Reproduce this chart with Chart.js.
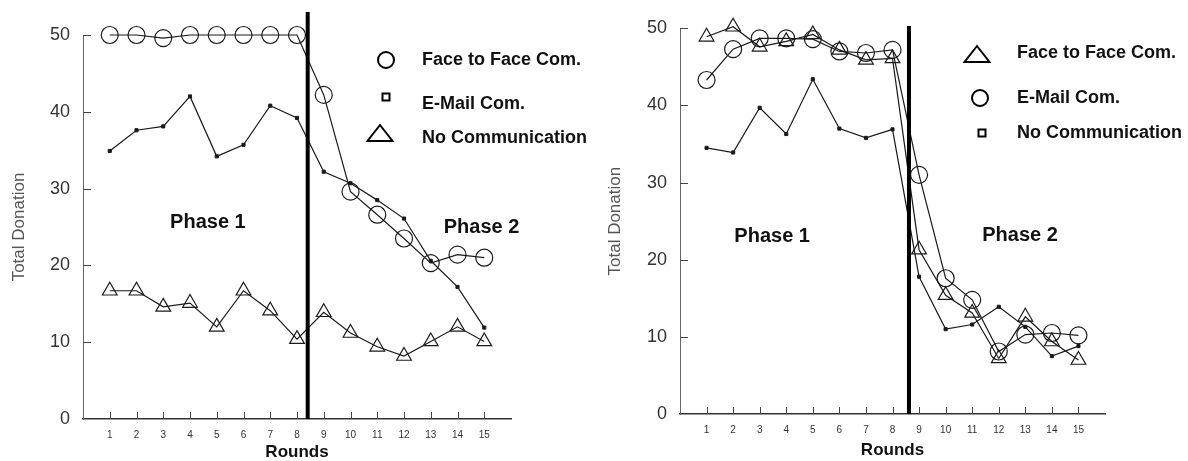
<!DOCTYPE html>
<html>
<head>
<meta charset="utf-8">
<script src="https://cdn.jsdelivr.net/npm/chart.js@4/dist/chart.umd.min.js"></script>
<style>
  body { margin: 0; background: #fff; }
  .wrap { position: relative; width: 1188px; height: 461px; }
  canvas { position: absolute; top: 0; }
  #left { left: 0; }
  #right { left: 594px; }
</style>
</head>
<body>
<div class="wrap">
  <canvas id="left" width="594" height="461"></canvas>
  <canvas id="right" width="594" height="461"></canvas>
</div>
<script>
// x categories and y ticks shared by both panels
const rounds = [1, 2, 3, 4, 5, 6, 7, 8, 9, 10, 11, 12, 13, 14, 15];
const yTicks = [0, 10, 20, 30, 40, 50];

// left panel values
const leftFace  = [50, 50, 49.6, 50, 50, 50, 50, 50, 42.2, 29.6, 26.6, 23.5, 20.3, 21.4, 21.0];
const leftEmail = [34.9, 37.6, 38.1, 42.0, 34.2, 35.7, 40.8, 39.2, 32.2, 30.7, 28.5, 26.1, 20.6, 17.2, 11.9];
const leftNone  = [16.7, 16.7, 14.6, 15.1, 12.0, 16.7, 14.1, 10.4, 13.9, 11.2, 9.4, 8.2, 10.1, 12.0, 10.1];

// right panel values
const rightFace  = [48.9, 50.2, 47.6, 48.3, 49.2, 47.2, 45.9, 46.1, 21.3, 15.4, 13.1, 7.2, 12.6, 9.4, 7.0];
const rightEmail = [43.3, 47.3, 48.7, 48.7, 48.6, 47.0, 46.8, 47.2, 31.0, 17.6, 14.8, 8.1, 10.3, 10.5, 10.2];
const rightNone  = [34.5, 33.9, 39.7, 36.3, 43.4, 37.0, 35.8, 36.9, 17.8, 11.0, 11.6, 13.9, 11.3, 7.5, 8.8];

const FONT = '"Liberation Sans", Arial, sans-serif';
const INK = '#1a1a1a';

const toPoints = vals => rounds.map((r, i) => ({ x: r, y: vals[i] }));

// marker looks for each symbol
const marks = {
  circle:   { pointStyle: 'circle',   pointRadius: 8.5, pointBorderWidth: 1.2, pointBackgroundColor: 'rgba(0,0,0,0)' },
  triangle: { pointStyle: 'triangle', pointRadius: 8.5, pointBorderWidth: 1.2, pointBackgroundColor: 'rgba(0,0,0,0)' },
  square:   { pointStyle: 'rect',     pointRadius: 2.2, pointBorderWidth: 1,   pointBackgroundColor: INK }
};

function series(label, vals, mark) {
  return Object.assign({
    label: label,
    data: toPoints(vals),
    borderColor: INK,
    borderWidth: 1.2,
    pointBorderColor: INK,
    tension: 0,
    clip: false
  }, marks[mark]);
}

// legend symbol drawn by hand (bigger/heavier than the plotted markers)
function legendSymbol(ctx, kind, x, y) {
  ctx.save();
  ctx.strokeStyle = '#000';
  ctx.lineWidth = 2;
  ctx.beginPath();
  if (kind === 'circle') {
    ctx.arc(x, y, 8, 0, Math.PI * 2);
  } else if (kind === 'triangle') {
    ctx.moveTo(x, y - 8);
    ctx.lineTo(x + 12.5, y + 8);
    ctx.lineTo(x - 12.5, y + 8);
    ctx.closePath();
  } else {
    ctx.rect(x - 3.5, y - 3.5, 7, 7);
  }
  ctx.stroke();
  ctx.restore();
}

// inside tick marks, phase labels and legend
const decor = {
  id: 'decor',
  afterDatasetsDraw(chart, args, opts) {
    const { ctx, chartArea: a, scales: { x, y } } = chart;
    ctx.save();
    ctx.strokeStyle = '#444';
    ctx.lineWidth = 1;
    ctx.beginPath();
    yTicks.forEach(v => {
      if (v === 0) return;
      const py = Math.round(y.getPixelForValue(v)) + 0.5;
      ctx.moveTo(a.left, py);
      ctx.lineTo(a.left + 8, py);
    });
    rounds.forEach(r => {
      const px = Math.round(x.getPixelForValue(r)) + 0.5;
      ctx.moveTo(px, a.bottom);
      ctx.lineTo(px, a.bottom - 7);
    });
    ctx.stroke();

    ctx.fillStyle = '#111';
    ctx.textAlign = 'center';
    ctx.textBaseline = 'middle';
    ctx.font = 'bold 20px ' + FONT;
    opts.phases.forEach(p => {
      ctx.fillText(p.text, x.getPixelForValue(p.x), y.getPixelForValue(p.y));
    });

    ctx.textAlign = 'left';
    ctx.font = 'bold 18px ' + FONT;
    opts.legend.forEach(item => {
      legendSymbol(ctx, item.kind, item.sx, item.sy);
      ctx.fillText(item.text, item.tx, item.ty);
    });
    ctx.restore();
  }
};

function makeChart(id, sets, divX, divTop, pad, yWidth, xHeight, titleX, roundsPad, phases, legend) {
  const divider = {
    label: 'divider',
    data: [{ x: divX, y: 0 }, { x: divX, y: divTop }],
    borderColor: '#000',
    borderWidth: 4,
    pointRadius: 0,
    clip: false
  };
  return new Chart(document.getElementById(id), {
    type: 'line',
    data: { datasets: [divider].concat(sets) },
    options: {
      responsive: false,
      animation: false,
      layout: { padding: pad },
      plugins: {
        legend: { display: false },
        tooltip: { enabled: false },
        decor: { phases: phases, legend: legend }
      },
      scales: {
        x: {
          type: 'linear', min: 0, max: 16,
          afterBuildTicks: s => { s.ticks = rounds.map(v => ({ value: v })); },
          afterFit: s => { s.height = xHeight; },
          grid: { display: false, drawTicks: false },
          border: { color: '#333', width: 1.5 },
          ticks: { font: { size: 10, family: FONT }, color: '#333', padding: 10, autoSkip: false, maxRotation: 0 },
          title: { display: true, text: 'Rounds', color: '#111',
                   font: { size: 17, weight: 'bold', family: FONT, lineHeight: 1 },
                   padding: { top: 0, bottom: roundsPad } }
        },
        y: {
          min: 0, max: 50,
          afterBuildTicks: s => { s.ticks = yTicks.map(v => ({ value: v })); },
          afterFit: s => { s.width = yWidth; },
          grid: { display: false, drawTicks: false },
          border: { color: '#666', width: 1 },
          ticks: { font: { size: 18, family: FONT }, color: '#333', padding: 13 },
          title: { display: true, text: 'Total Donation', color: '#555',
                   font: { size: 17, family: FONT },
                   padding: { top: titleX, bottom: 0 } }
        }
      }
    },
    plugins: [decor]
  });
}

makeChart('left',
  [series('Face to Face Com.', leftFace, 'circle'),
   series('E-Mail Com.', leftEmail, 'square'),
   series('No Communication', leftNone, 'triangle')],
  8.4, 53, { left: 0, top: 35, right: 83, bottom: 0 }, 83, 42, 9, 0,
  [{ text: 'Phase 1', x: 4.67, y: 25.6 }, { text: 'Phase 2', x: 14.9, y: 25.0 }],
  [{ kind: 'circle',   sx: 386, sy: 60,  text: 'Face to Face Com.', tx: 422, ty: 60 },
   { kind: 'square',   sx: 386, sy: 97,  text: 'E-Mail Com.',       tx: 422, ty: 104 },
   { kind: 'triangle', sx: 380, sy: 133, text: 'No Communication',  tx: 422, ty: 138 }]
);

makeChart('right',
  [series('Face to Face Com.', rightFace, 'triangle'),
   series('E-Mail Com.', rightEmail, 'circle'),
   series('No Communication', rightNone, 'square')],
  8.62, 50.3, { left: 0, top: 28.3, right: 83, bottom: 0 }, 86, 47, 11.3, 2.5,
  [{ text: 'Phase 1', x: 3.47, y: 23.0 }, { text: 'Phase 2', x: 12.8, y: 23.1 }],
  [{ kind: 'triangle', sx: 383, sy: 54,  text: 'Face to Face Com.', tx: 423, ty: 53 },
   { kind: 'circle',   sx: 386, sy: 98,  text: 'E-Mail Com.',       tx: 423, ty: 98 },
   { kind: 'square',   sx: 388, sy: 133, text: 'No Communication',  tx: 423, ty: 133 }]
);
</script>
</body>
</html>
